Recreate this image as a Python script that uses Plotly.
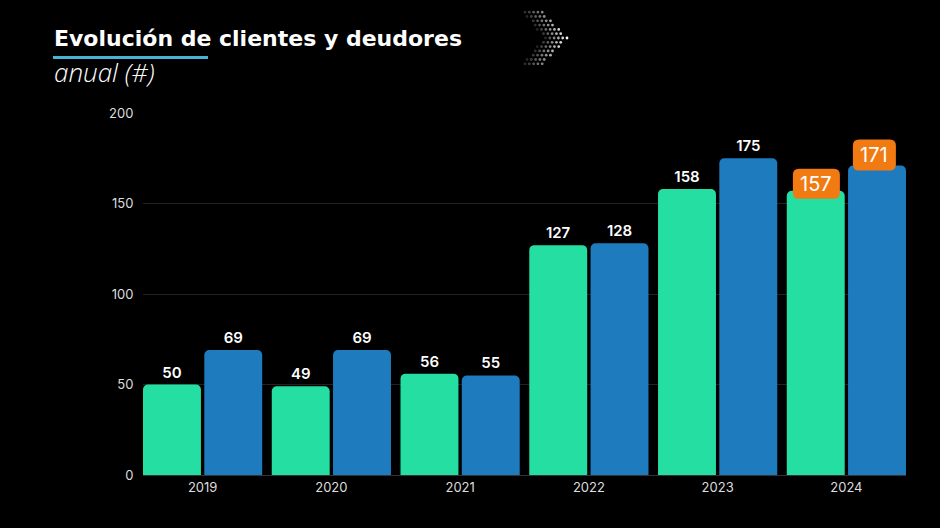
import plotly.graph_objects as go

# ---------------- data ----------------
years = ["2019", "2020", "2021", "2022", "2023", "2024"]
clientes = [50, 49, 56, 127, 158, 157]
deudores = [69, 69, 55, 128, 175, 171]
y_ticks = [0, 50, 100, 150, 200]
highlight_year = "2024"
title_text = "Evolución de clientes y deudores"
subtitle_text = "anual (#)"

# ---------------- layout constants ----------------
W, H = 940, 528
ML, MR, MT, MB = 143, 34, 113, 53
PW, PH = W - ML - MR, H - MT - MB

GREEN = "#25dfa2"
BLUE = "#1e7bbd"
ORANGE = "#f27a12"
CYAN = "#48b3d8"


def px(x):
    return (x - ML) / PW


def py(y):
    return (H - MB - y) / PH


def labels(vals):
    return [("" if yr == highlight_year else str(v)) for yr, v in zip(years, vals)]


fig = go.Figure()
for name, vals, color in [("Clientes", clientes, GREEN), ("Deudores", deudores, BLUE)]:
    fig.add_trace(go.Bar(
        x=years, y=vals, name=name,
        marker=dict(color=color, line_width=0, cornerradius=5),
        text=labels(vals), textposition="outside",
        textfont=dict(family="Inter", size=15, color="white", weight=600),
        cliponaxis=False,
    ))

# ---------------- highlighted labels (rounded orange boxes) ----------------
hi = years.index(highlight_year)
shapes = []
annotations = []
for vals, off, bw, (yb, yt) in [(clientes, -30, 47, (-8, 22)), (deudores, 28, 43, (-5, 26))]:
    v = vals[hi]
    r = 6
    x0, x1 = off - bw / 2, off + bw / 2
    y0, y1 = yb, yt
    path = (f"M {x0 + r},{y0} L {x1 - r},{y0} Q {x1},{y0} {x1},{y0 + r} "
            f"L {x1},{y1 - r} Q {x1},{y1} {x1 - r},{y1} L {x0 + r},{y1} "
            f"Q {x0},{y1} {x0},{y1 - r} L {x0},{y0 + r} Q {x0},{y0} {x0 + r},{y0} Z")
    shapes.append(dict(type="path", xref="x", yref="y", xsizemode="pixel", ysizemode="pixel",
                       xanchor=hi, yanchor=v, path=path, fillcolor=ORANGE, line_width=0, layer="above"))
    annotations.append(dict(x=hi, y=v, xref="x", yref="y", text=str(v), showarrow=False,
                            xshift=off, yshift=(yb + yt) / 2, xanchor="center", yanchor="middle",
                            font=dict(family="Inter", size=20, color="white", weight=400)))

# ---------------- title / subtitle ----------------
annotations.append(dict(x=px(52), y=py(38), xref="paper", yref="paper", xanchor="left", yanchor="middle",
                        text=f"<b>{title_text}</b>", showarrow=False,
                        font=dict(family="DejaVu Sans", size=22, color="white")))
annotations.append(dict(x=px(52), y=py(72), xref="paper", yref="paper", xanchor="left", yanchor="middle",
                        text=subtitle_text, showarrow=False,
                        font=dict(family="Open Sans", size=26, color="white", style="italic", weight=300)))
shapes.append(dict(type="line", xref="paper", yref="paper", x0=px(53), x1=px(208), y0=py(57.5), y1=py(57.5),
                   line=dict(color=CYAN, width=3)))

# ---------------- decorative dotted chevron ----------------
pitch = 4.3
apex_x, apex_y = 567, 38
rad = 1.4
for rr in range(-6, 7):
    yy = apex_y + rr * pitch
    ady = abs(yy - apex_y)
    right = apex_x - 0.96 * ady
    left = 543 - 0.77 * ady
    xx = right - (0 if rr % 2 == 0 else pitch / 2)
    while xx >= left - 0.1:
        a = max(0.08, 1 - (right - xx) / 26) * (1 - 0.5 * ady / 27)
        shapes.append(dict(type="circle", xref="paper", yref="paper",
                           x0=px(xx - rad), x1=px(xx + rad), y0=py(yy + rad), y1=py(yy - rad),
                           fillcolor=f"rgba(255,255,255,{a:.2f})", line_width=0))
        xx -= pitch

fig.update_layout(
    width=W, height=H,
    margin=dict(l=ML, r=MR, t=MT, b=MB),
    paper_bgcolor="black", plot_bgcolor="black",
    barmode="group", bargap=0.048, bargroupgap=0.055,
    showlegend=False,
    font=dict(family="Inter", color="#dddddd"),
    xaxis=dict(type="category", range=[-0.463, 5.463], showgrid=False, showline=True,
               linecolor="#333333", linewidth=1, ticks="", fixedrange=True,
               tickfont=dict(family="Inter", size=13, color="#dddddd")),
    yaxis=dict(range=[0, 200], tickvals=y_ticks, showgrid=True, gridcolor="#222222", gridwidth=1,
               zeroline=False, showline=False, ticks="outside", ticklen=6,
               tickcolor="rgba(0,0,0,0)", fixedrange=True,
               tickfont=dict(family="Inter", size=13, color="#dddddd")),
    shapes=shapes,
    annotations=annotations,
)

fig.write_html("out.html", config={"displayModeBar": False},
               post_script="document.body.style.margin='0';document.body.style.background='black';")
